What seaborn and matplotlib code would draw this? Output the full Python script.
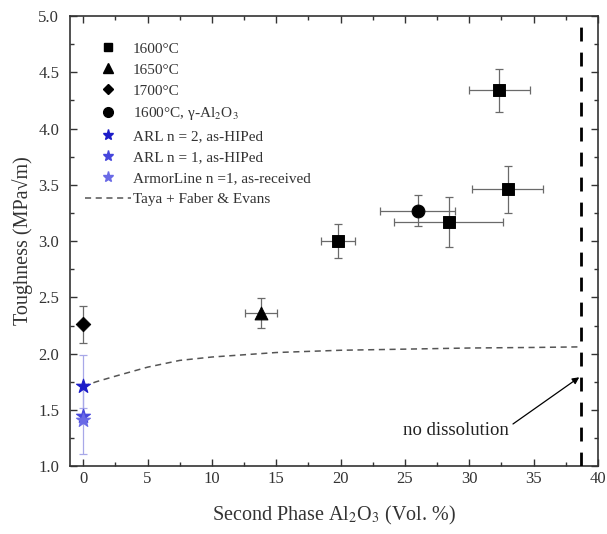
import numpy as np
import pandas as pd
import matplotlib
matplotlib.use("Agg")
import matplotlib.pyplot as plt
import seaborn as sns
from matplotlib.lines import Line2D
from matplotlib.legend_handler import HandlerLine2D

# ---- data ----
sq_x = [19.8, 28.4, 32.35, 33.0]
sq_y = [3.00, 3.17, 4.34, 3.46]
sq_xerr = [1.35, 4.25, 2.35, 2.75]
sq_yerr = [0.15, 0.22, 0.19, 0.21]

tri_x = [13.8]
tri_y = [2.36]
tri_xerr = [1.25]
tri_yerr = [0.13]

dia_x = [0.0]
dia_y = [2.26]
dia_yerr = [0.165]

cir_x = [26.0]
cir_y = [3.27]
cir_xerr = [2.9]
cir_yerr = [0.14]

star_labels = ["ARL n = 2, as-HIPed", "ARL n = 1, as-HIPed", "ArmorLine n =1, as-received"]
star_x = [0.0, 0.0, 0.0]
star_y = [1.71, 1.45, 1.41]
star_yerr = [0.28, 0.07, 0.30]

curve_x = [0, 1, 2.5, 5, 7.5, 10, 15, 20, 25, 30, 35, 38.6]
curve_y = [1.71, 1.75, 1.80, 1.88, 1.94, 1.97, 2.01, 2.03, 2.04, 2.05, 2.055, 2.06]

vline_x = 38.7

# ---- style ----
sns.set_theme(style="ticks")
plt.rcParams["font.family"] = ["Liberation Serif", "DejaVu Serif"]
plt.rcParams["mathtext.fontset"] = "stix"

fig = plt.figure(figsize=(6.07, 5.34), dpi=100)
ax = fig.add_axes([0.116, 0.127, 0.869, 0.843])

ecol = "#6a6a6a"
eb = dict(fmt="none", elinewidth=0.9, capsize=3, capthick=0.9, zorder=2)
ax.errorbar(sq_x, sq_y, xerr=sq_xerr, yerr=sq_yerr, ecolor=ecol, **eb)
ax.errorbar(tri_x, tri_y, xerr=tri_xerr, yerr=tri_yerr, ecolor=ecol, **eb)
ax.errorbar(dia_x, dia_y, yerr=dia_yerr, ecolor=ecol, **eb)
ax.errorbar(cir_x, cir_y, xerr=cir_xerr, yerr=cir_yerr, ecolor=ecol, **eb)
ax.errorbar(star_x, star_y, yerr=star_yerr, ecolor="#a8a8e8", **eb)

# curve and vertical line
sns.lineplot(x=curve_x, y=curve_y, ax=ax, color="#555555", lw=1.1, linestyle=(0, (4, 3)), zorder=3)
ax.axvline(vline_x, color="black", lw=2.0, linestyle=(0, (5, 4)), zorder=3)

# markers
sns.scatterplot(x=sq_x, y=sq_y, ax=ax, marker="s", s=70, color="black", edgecolor="black", zorder=4)
sns.scatterplot(x=tri_x, y=tri_y, ax=ax, marker="^", s=85, color="black", edgecolor="black", zorder=4)
sns.scatterplot(x=dia_x, y=dia_y, ax=ax, marker="D", s=55, color="black", edgecolor="black", zorder=4)
sns.scatterplot(x=cir_x, y=cir_y, ax=ax, marker="o", s=85, color="black", edgecolor="black", zorder=4)
star_cols = ["#1c1cc8", "#4646dc", "#6a6ae6"]
for xx, yy, cc in zip(star_x, star_y, star_cols):
    sns.scatterplot(x=[xx], y=[yy], ax=ax, marker="*", s=110, color=cc, edgecolor=cc, zorder=5)

# annotation
ax.text(29.0, 1.32, "no dissolution", fontsize=13.5, ha="center", va="center", color="#222222")
ax.annotate("", xy=(38.55, 1.79), xytext=(33.4, 1.375),
            arrowprops=dict(arrowstyle="-|>", color="black", lw=0.9, mutation_scale=10, shrinkA=0, shrinkB=0))

# axes
ax.set_xlim(-1, 40)
ax.set_ylim(1.0, 5.0)
ax.set_xticks(np.arange(0, 41, 5))
ax.set_yticks(np.arange(1.0, 5.01, 0.5))
ax.set_xticks(np.arange(2.5, 40, 5), minor=True)
ax.set_yticks(np.arange(1.25, 5.0, 0.5), minor=True)
ax.set_yticklabels([f"{v:.1f}" for v in np.arange(1.0, 5.01, 0.5)])
ax.tick_params(which="both", direction="in", top=True, right=True, colors="#333333", labelcolor="#333333", labelsize=12)
ax.tick_params(which="major", length=5, width=1)
ax.tick_params(which="minor", length=3, width=1)
ax.tick_params(axis="y", pad=8)
for sp in ax.spines.values():
    sp.set_color("#333333")
    sp.set_linewidth(1.2)
ax.set_xlabel("Second Phase Al$_2$O$_3$ (Vol. %)", fontsize=14.5, color="#333333", labelpad=12)
ax.set_ylabel("Toughness (MPa√m)", fontsize=14.5, color="#333333", labelpad=4)


class OffsetMarkerHandler(HandlerLine2D):
    def get_xdata(self, legend, xdescent, ydescent, width, height, fontsize):
        xd, xm = super().get_xdata(legend, xdescent, ydescent, width, height, fontsize)
        xm = np.array([-xdescent + 0.6 * width])
        return xd, xm


handles = [
    Line2D([], [], marker="s", color="black", ls="none", ms=6),
    Line2D([], [], marker="^", color="black", ls="none", ms=7),
    Line2D([], [], marker="D", color="black", ls="none", ms=5.5),
    Line2D([], [], marker="o", color="black", ls="none", ms=7),
    Line2D([], [], marker="*", color=star_cols[0], ls="none", ms=8),
    Line2D([], [], marker="*", color=star_cols[1], ls="none", ms=8),
    Line2D([], [], marker="*", color=star_cols[2], ls="none", ms=8),
    Line2D([], [], color="#555555", lw=1.1, ls=(0, (4, 3))),
]
labels = ["1600°C", "1650°C", "1700°C", "1600°C, γ-Al$_2$O$_3$"] + star_labels + ["Taya + Faber & Evans"]
ax.legend(handles, labels, loc="upper left", bbox_to_anchor=(0.016, 0.956), borderaxespad=0,
          frameon=False, fontsize=11, labelspacing=0.48, handlelength=3.0, handletextpad=0.15,
          labelcolor="#333333", handler_map={Line2D: OffsetMarkerHandler()})

fig.savefig("out.png", dpi=100)
